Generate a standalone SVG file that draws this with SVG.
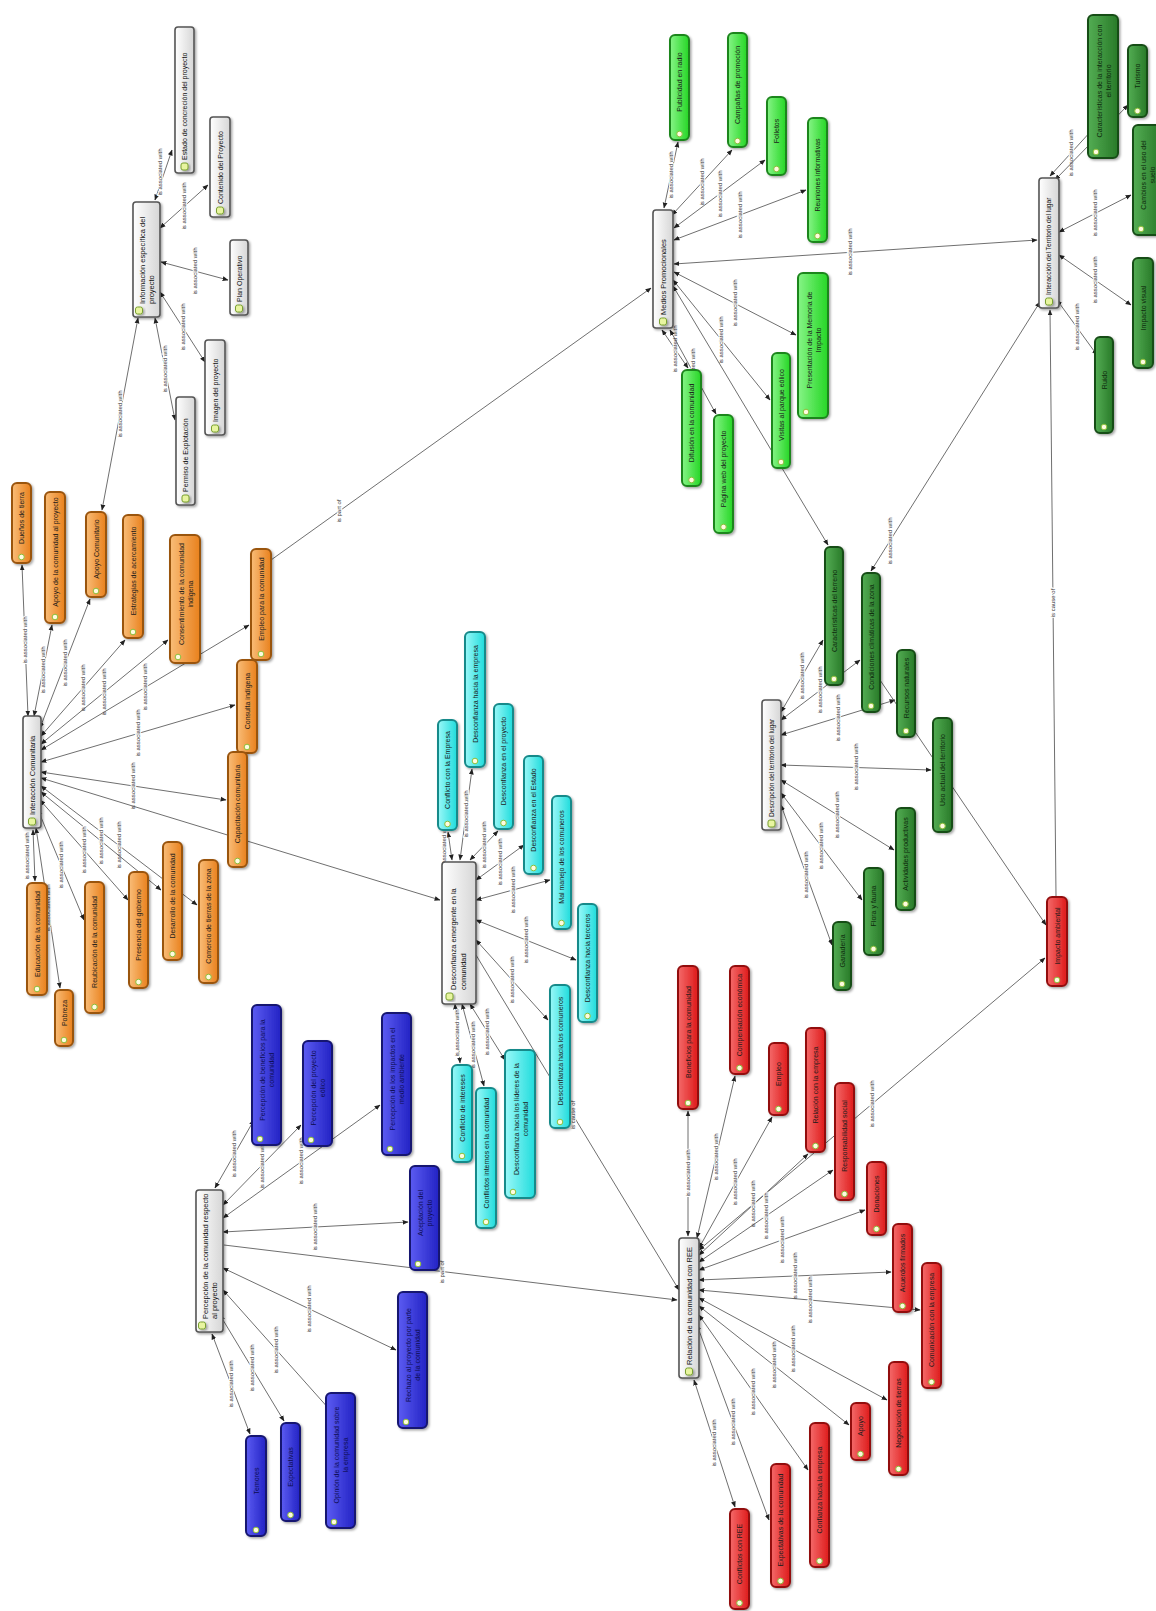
<svg xmlns="http://www.w3.org/2000/svg" width="1156" height="1611" viewBox="0 0 1156 1611">
<defs>
<linearGradient id="gOr" x1="0" y1="0" x2="1" y2="0"><stop offset="0" stop-color="#f9bd78"/><stop offset="1" stop-color="#e9811d"/></linearGradient>
<linearGradient id="gCy" x1="0" y1="0" x2="1" y2="0"><stop offset="0" stop-color="#9af8f8"/><stop offset="1" stop-color="#1fdcdc"/></linearGradient>
<linearGradient id="gBl" x1="0" y1="0" x2="1" y2="0"><stop offset="0" stop-color="#5c5cf2"/><stop offset="1" stop-color="#2222c4"/></linearGradient>
<linearGradient id="gRd" x1="0" y1="0" x2="1" y2="0"><stop offset="0" stop-color="#f46a6a"/><stop offset="1" stop-color="#de1a1a"/></linearGradient>
<linearGradient id="gGr" x1="0" y1="0" x2="1" y2="0"><stop offset="0" stop-color="#86f486"/><stop offset="1" stop-color="#25d625"/></linearGradient>
<linearGradient id="gDg" x1="0" y1="0" x2="1" y2="0"><stop offset="0" stop-color="#54ad54"/><stop offset="1" stop-color="#287a28"/></linearGradient>
<linearGradient id="gHb" x1="0" y1="0" x2="1" y2="0"><stop offset="0" stop-color="#ffffff"/><stop offset="1" stop-color="#d6d6d6"/></linearGradient>
<filter id="sh" x="-30%" y="-10%" width="170%" height="125%"><feDropShadow dx="1.5" dy="1.5" stdDeviation="1" flood-color="#000" flood-opacity="0.35"/></filter>
<marker id="ah" viewBox="0 0 10 10" refX="9" refY="5" markerWidth="6" markerHeight="6" markerUnits="userSpaceOnUse" orient="auto-start-reverse"><path d="M0,1 L10,5 L0,9 z" fill="#222"/></marker>
<style>
.n rect{stroke-width:2;filter:url(#sh)}
.n text{font-family:"Liberation Sans",Arial,sans-serif;font-size:7px;fill:#1a1a1a;text-anchor:middle}
.n circle{fill:#fffbe0;stroke:#8cbf3a;stroke-width:1}
.or rect{fill:url(#gOr);stroke:#9a5410}
.cy rect{fill:url(#gCy);stroke:#178a8a}
.bl rect{fill:url(#gBl);stroke:#141470}
.bl text{fill:#0c0c50}
.rd rect{fill:url(#gRd);stroke:#921010}
.gr rect{fill:url(#gGr);stroke:#1f861f}
.dg rect{fill:url(#gDg);stroke:#184d18}
.dg text{fill:#0d2a0d}
.hb rect{fill:url(#gHb);stroke:#555;stroke-width:1.6}
.hb text{font-size:7.5px;fill:#111;text-anchor:start}
.hb .ic{fill:#e8f5a0;stroke:#7aa030;stroke-width:1}
#connectors line{stroke:#4a4a4a;stroke-width:0.8;fill:none}
.as{marker-start:url(#ah);marker-end:url(#ah)}
.on{marker-end:url(#ah)}
.lb{font-family:"Liberation Sans",Arial,sans-serif;font-size:6px;fill:#333;text-anchor:middle;stroke:#fff;stroke-width:2;paint-order:stroke}
</style>
</defs>
<rect width="1156" height="1611" fill="#fff"/>

<g id="connectors">
<!-- Interacción Comunitaria -->
<line class="as" x1="28" y1="716" x2="22" y2="565"/><text class="lb" x="25" y="640" transform="rotate(-90 25 640)" dy="2">is associated with</text>
<line class="as" x1="34" y1="716" x2="52" y2="625"/><text class="lb" x="43" y="670" transform="rotate(-90 43 670)" dy="2">is associated with</text>
<line class="as" x1="40" y1="728" x2="90" y2="599"/><text class="lb" x="65" y="663" transform="rotate(-90 65 663)" dy="2">is associated with</text>
<line class="as" x1="41" y1="736" x2="125" y2="640"/><text class="lb" x="83" y="688" transform="rotate(-90 83 688)" dy="2">is associated with</text>
<line class="as" x1="41" y1="744" x2="168" y2="640"/><text class="lb" x="104" y="692" transform="rotate(-90 104 692)" dy="2">is associated with</text>
<line class="as" x1="41" y1="750" x2="249" y2="625"/><text class="lb" x="145" y="687" transform="rotate(-90 145 687)" dy="2">is associated with</text>
<line class="as" x1="41" y1="762" x2="235" y2="705"/><text class="lb" x="138" y="733" transform="rotate(-90 138 733)" dy="2">is associated with</text>
<line class="as" x1="41" y1="772" x2="226" y2="800"/><text class="lb" x="133" y="786" transform="rotate(-90 133 786)" dy="2">is associated with</text>
<line class="as" x1="41" y1="778" x2="440" y2="900"/><text class="lb" x="240" y="839" transform="rotate(-90 240 839)" dy="2">is associated with</text>
<line class="as" x1="41" y1="786" x2="197" y2="905"/><text class="lb" x="119" y="845" transform="rotate(-90 119 845)" dy="2">is associated with</text>
<line class="as" x1="41" y1="792" x2="161" y2="890"/><text class="lb" x="101" y="841" transform="rotate(-90 101 841)" dy="2">is associated with</text>
<line class="as" x1="40" y1="800" x2="128" y2="900"/><text class="lb" x="84" y="850" transform="rotate(-90 84 850)" dy="2">is associated with</text>
<line class="as" x1="38" y1="810" x2="84" y2="920"/><text class="lb" x="61" y="865" transform="rotate(-90 61 865)" dy="2">is associated with</text>
<line class="as" x1="36" y1="828" x2="60" y2="988"/><text class="lb" x="48" y="908" transform="rotate(-90 48 908)" dy="2">is associated with</text>
<line class="as" x1="33" y1="830" x2="35" y2="881"/><text class="lb" x="27" y="856" transform="rotate(-90 27 856)" dy="2">is associated with</text>
<!-- Información específica -->
<line class="as" x1="138" y1="318" x2="102" y2="510"/><text class="lb" x="120" y="414" transform="rotate(-90 120 414)" dy="2">is associated with</text>
<line class="as" x1="155" y1="200" x2="172" y2="150"/><text class="lb" x="160" y="172" transform="rotate(-90 160 172)" dy="2">is associated with</text>
<line class="as" x1="160" y1="228" x2="208" y2="185"/><text class="lb" x="184" y="206" transform="rotate(-90 184 206)" dy="2">is associated with</text>
<line class="as" x1="161" y1="262" x2="228" y2="280"/><text class="lb" x="195" y="271" transform="rotate(-90 195 271)" dy="2">is associated with</text>
<line class="as" x1="160" y1="292" x2="205" y2="362"/><text class="lb" x="183" y="327" transform="rotate(-90 183 327)" dy="2">is associated with</text>
<line class="as" x1="155" y1="318" x2="175" y2="420"/><text class="lb" x="165" y="369" transform="rotate(-90 165 369)" dy="2">is associated with</text>
<!-- Medios Promocionales -->
<line class="on" x1="271" y1="560" x2="651" y2="288"/><text class="lb" x="339" y="511" transform="rotate(-90 339 511)" dy="2">is part of</text>
<line class="as" x1="664" y1="208" x2="678" y2="142"/><text class="lb" x="671" y="175" transform="rotate(-90 671 175)" dy="2">is associated with</text>
<line class="as" x1="672" y1="215" x2="732" y2="150"/><text class="lb" x="702" y="182" transform="rotate(-90 702 182)" dy="2">is associated with</text>
<line class="as" x1="674" y1="228" x2="765" y2="160"/><text class="lb" x="720" y="194" transform="rotate(-90 720 194)" dy="2">is associated with</text>
<line class="as" x1="674" y1="240" x2="806" y2="190"/><text class="lb" x="740" y="215" transform="rotate(-90 740 215)" dy="2">is associated with</text>
<line class="as" x1="674" y1="264" x2="1037" y2="240"/><text class="lb" x="850" y="252" transform="rotate(-90 850 252)" dy="2">is associated with</text>
<line class="as" x1="674" y1="272" x2="796" y2="335"/><text class="lb" x="735" y="303" transform="rotate(-90 735 303)" dy="2">is associated with</text>
<line class="as" x1="673" y1="280" x2="770" y2="400"/><text class="lb" x="721" y="340" transform="rotate(-90 721 340)" dy="2">is associated with</text>
<line class="as" x1="673" y1="286" x2="828" y2="545"/>
<line class="as" x1="662" y1="330" x2="688" y2="368"/><text class="lb" x="675" y="349" transform="rotate(-90 675 349)" dy="2">is associated with</text>
<line class="as" x1="670" y1="330" x2="716" y2="414"/><text class="lb" x="693" y="372" transform="rotate(-90 693 372)" dy="2">is associated with</text>
<!-- Descripción del territorio -->
<line class="as" x1="781" y1="712" x2="823" y2="640"/><text class="lb" x="802" y="676" transform="rotate(-90 802 676)" dy="2">is associated with</text>
<line class="as" x1="781" y1="720" x2="860" y2="660"/><text class="lb" x="820" y="690" transform="rotate(-90 820 690)" dy="2">is associated with</text>
<line class="as" x1="781" y1="735" x2="895" y2="700"/><text class="lb" x="838" y="718" transform="rotate(-90 838 718)" dy="2">is associated with</text>
<line class="as" x1="781" y1="765" x2="931" y2="770"/><text class="lb" x="856" y="767" transform="rotate(-90 856 767)" dy="2">is associated with</text>
<line class="as" x1="781" y1="780" x2="894" y2="850"/><text class="lb" x="837" y="815" transform="rotate(-90 837 815)" dy="2">is associated with</text>
<line class="as" x1="781" y1="793" x2="862" y2="900"/><text class="lb" x="821" y="846" transform="rotate(-90 821 846)" dy="2">is associated with</text>
<line class="as" x1="781" y1="805" x2="832" y2="945"/><text class="lb" x="806" y="875" transform="rotate(-90 806 875)" dy="2">is associated with</text>
<line class="as" x1="871" y1="571" x2="1040" y2="302"/><text class="lb" x="890" y="541" transform="rotate(-90 890 541)" dy="2">is associated with</text>
<line class="on" x1="880" y1="680" x2="1046" y2="925"/>
<line class="on" x1="1056" y1="896" x2="1050" y2="310"/><text class="lb" x="1053" y="603" transform="rotate(-90 1053 603)" dy="2">is cause of</text>
<line class="as" x1="699" y1="1250" x2="1045" y2="958"/><text class="lb" x="872" y="1104" transform="rotate(-90 872 1104)" dy="2">is associated with</text>
<!-- Desconfianza emergente -->
<line class="as" x1="452" y1="860" x2="448" y2="832"/><text class="lb" x="444" y="846" transform="rotate(-90 444 846)" dy="2">is associated with</text>
<line class="as" x1="460" y1="860" x2="472" y2="769"/><text class="lb" x="466" y="814" transform="rotate(-90 466 814)" dy="2">is associated with</text>
<line class="as" x1="470" y1="860" x2="498" y2="831"/><text class="lb" x="484" y="845" transform="rotate(-90 484 845)" dy="2">is associated with</text>
<line class="as" x1="476" y1="880" x2="524" y2="845"/><text class="lb" x="500" y="862" transform="rotate(-90 500 862)" dy="2">is associated with</text>
<line class="as" x1="476" y1="900" x2="550" y2="880"/><text class="lb" x="513" y="890" transform="rotate(-90 513 890)" dy="2">is associated with</text>
<line class="as" x1="476" y1="920" x2="576" y2="960"/><text class="lb" x="526" y="940" transform="rotate(-90 526 940)" dy="2">is associated with</text>
<line class="as" x1="476" y1="940" x2="548" y2="1020"/><text class="lb" x="512" y="980" transform="rotate(-90 512 980)" dy="2">is associated with</text>
<line class="on" x1="476" y1="955" x2="679" y2="1290"/><text class="lb" x="573" y="1115" transform="rotate(-90 573 1115)" dy="2">is cause of</text>
<line class="as" x1="470" y1="1004" x2="505" y2="1060"/><text class="lb" x="487" y="1032" transform="rotate(-90 487 1032)" dy="2">is associated with</text>
<line class="as" x1="462" y1="1004" x2="484" y2="1086"/><text class="lb" x="473" y="1045" transform="rotate(-90 473 1045)" dy="2">is associated with</text>
<line class="as" x1="455" y1="1004" x2="460" y2="1063"/><text class="lb" x="457" y="1033" transform="rotate(-90 457 1033)" dy="2">is associated with</text>
<!-- Relación de la comunidad -->
<line class="as" x1="688" y1="1236" x2="688" y2="1111"/><text class="lb" x="688" y="1173" transform="rotate(-90 688 1173)" dy="2">is associated with</text>
<line class="as" x1="697" y1="1238" x2="735" y2="1076"/><text class="lb" x="716" y="1157" transform="rotate(-90 716 1157)" dy="2">is associated with</text>
<line class="as" x1="699" y1="1248" x2="772" y2="1117"/><text class="lb" x="735" y="1182" transform="rotate(-90 735 1182)" dy="2">is associated with</text>
<line class="as" x1="699" y1="1255" x2="808" y2="1154"/><text class="lb" x="753" y="1204" transform="rotate(-90 753 1204)" dy="2">is associated with</text>
<line class="as" x1="699" y1="1262" x2="833" y2="1170"/><text class="lb" x="766" y="1216" transform="rotate(-90 766 1216)" dy="2">is associated with</text>
<line class="as" x1="699" y1="1270" x2="865" y2="1210"/><text class="lb" x="782" y="1240" transform="rotate(-90 782 1240)" dy="2">is associated with</text>
<line class="as" x1="699" y1="1280" x2="891" y2="1272"/><text class="lb" x="795" y="1276" transform="rotate(-90 795 1276)" dy="2">is associated with</text>
<line class="as" x1="699" y1="1290" x2="920" y2="1310"/><text class="lb" x="810" y="1300" transform="rotate(-90 810 1300)" dy="2">is associated with</text>
<line class="as" x1="699" y1="1298" x2="887" y2="1400"/><text class="lb" x="793" y="1349" transform="rotate(-90 793 1349)" dy="2">is associated with</text>
<line class="as" x1="699" y1="1306" x2="849" y2="1425"/><text class="lb" x="774" y="1365" transform="rotate(-90 774 1365)" dy="2">is associated with</text>
<line class="as" x1="699" y1="1315" x2="808" y2="1470"/><text class="lb" x="753" y="1392" transform="rotate(-90 753 1392)" dy="2">is associated with</text>
<line class="as" x1="697" y1="1325" x2="769" y2="1520"/><text class="lb" x="733" y="1422" transform="rotate(-90 733 1422)" dy="2">is associated with</text>
<line class="as" x1="694" y1="1380" x2="735" y2="1507"/><text class="lb" x="714" y="1443" transform="rotate(-90 714 1443)" dy="2">is associated with</text>
<line class="on" x1="224" y1="1245" x2="677" y2="1300"/><text class="lb" x="442" y="1272" transform="rotate(-90 442 1272)" dy="2">is part of</text>
<!-- Percepción -->
<line class="as" x1="215" y1="1188" x2="254" y2="1120"/><text class="lb" x="234" y="1154" transform="rotate(-90 234 1154)" dy="2">is associated with</text>
<line class="as" x1="223" y1="1205" x2="301" y2="1125"/><text class="lb" x="262" y="1165" transform="rotate(-90 262 1165)" dy="2">is associated with</text>
<line class="as" x1="223" y1="1218" x2="380" y2="1105"/><text class="lb" x="301" y="1161" transform="rotate(-90 301 1161)" dy="2">is associated with</text>
<line class="as" x1="223" y1="1232" x2="408" y2="1222"/><text class="lb" x="315" y="1227" transform="rotate(-90 315 1227)" dy="2">is associated with</text>
<line class="as" x1="223" y1="1268" x2="396" y2="1350"/><text class="lb" x="309" y="1309" transform="rotate(-90 309 1309)" dy="2">is associated with</text>
<line class="as" x1="223" y1="1290" x2="330" y2="1410"/><text class="lb" x="276" y="1350" transform="rotate(-90 276 1350)" dy="2">is associated with</text>
<line class="as" x1="220" y1="1315" x2="284" y2="1421"/><text class="lb" x="252" y="1368" transform="rotate(-90 252 1368)" dy="2">is associated with</text>
<line class="as" x1="212" y1="1334" x2="250" y2="1434"/><text class="lb" x="231" y="1384" transform="rotate(-90 231 1384)" dy="2">is associated with</text>
<!-- Interacción del Territorio -->
<line class="as" x1="1050" y1="176" x2="1092" y2="130"/><text class="lb" x="1071" y="153" transform="rotate(-90 1071 153)" dy="2">is associated with</text>
<line class="as" x1="1055" y1="180" x2="1128" y2="105"/>
<line class="as" x1="1059" y1="232" x2="1131" y2="195"/><text class="lb" x="1095" y="213" transform="rotate(-90 1095 213)" dy="2">is associated with</text>
<line class="as" x1="1059" y1="255" x2="1131" y2="305"/><text class="lb" x="1095" y="280" transform="rotate(-90 1095 280)" dy="2">is associated with</text>
<line class="as" x1="1057" y1="300" x2="1097" y2="355"/><text class="lb" x="1077" y="327" transform="rotate(-90 1077 327)" dy="2">is associated with</text>
</g>

<!-- Hubs -->
<g id="hub-interaccion-comunitaria" class="n hb"><rect x="23" y="716" width="18" height="112" rx="3"/><text x="32" y="815" transform="rotate(-90 32 815)" dy="2.6">Interacción Comunitaria</text><rect class="ic" x="28.5" y="818" width="7" height="7" rx="2"/></g>
<g id="hub-informacion" class="n hb"><rect x="133" y="202" width="27" height="115" rx="3"/><text x="142" y="304" transform="rotate(-90 142 304)" dy="2.6"><tspan>Información específica del</tspan><tspan x="142" dy="9">proyecto</tspan></text><rect class="ic" x="135.5" y="307" width="7" height="7" rx="2"/></g>
<g id="hub-desconfianza" class="n hb"><rect x="442" y="862" width="34" height="142" rx="3"/><text x="453" y="990" transform="rotate(-90 453 990)" dy="2.6"><tspan>Desconfianza emergente en la</tspan><tspan x="453" dy="10">comunidad</tspan></text><rect class="ic" x="446" y="993" width="7" height="7" rx="2"/></g>
<g id="hub-percepcion" class="n hb"><rect x="196" y="1190" width="27" height="142" rx="3"/><text x="205" y="1319" transform="rotate(-90 205 1319)" dy="2.6"><tspan>Percepción de la comunidad respecto</tspan><tspan x="205" dy="9">al proyecto</tspan></text><rect class="ic" x="198.5" y="1322" width="7" height="7" rx="2"/></g>
<g id="hub-relacion" class="n hb"><rect x="679" y="1238" width="20" height="140" rx="3"/><text x="689" y="1365" transform="rotate(-90 689 1365)" dy="2.6">Relación de la comunidad con REE</text><rect class="ic" x="685.5" y="1368" width="7" height="7" rx="2"/></g>
<g id="hub-medios" class="n hb"><rect x="653" y="210" width="20" height="118" rx="3"/><text x="663" y="315" transform="rotate(-90 663 315)" dy="2.6">Medios Promocionales</text><rect class="ic" x="659.5" y="318" width="7" height="7" rx="2"/></g>
<g id="hub-descripcion" class="n hb"><rect x="762" y="700" width="19" height="130" rx="3"/><text x="771.5" y="817" transform="rotate(-90 771.5 817)" dy="2.4" style="font-size:6.6px">Descripción del territorio del lugar</text><rect class="ic" x="768" y="820" width="7" height="7" rx="2"/></g>
<g id="hub-territorio" class="n hb"><rect x="1039" y="178" width="20" height="130" rx="3"/><text x="1049" y="295" transform="rotate(-90 1049 295)" dy="2.4" style="font-size:6.6px">Interacción del Territorio del lugar</text><rect class="ic" x="1045.5" y="298" width="7" height="7" rx="2"/></g>

<!-- Orange -->
<g id="o1" class="n or"><rect x="12" y="483" width="19" height="80" rx="5"/><text x="21.5" y="518" transform="rotate(-90 21.5 518)" dy="2.5">Dueños de tierra</text><circle cx="21.5" cy="557" r="2.8"/></g>
<g id="o2" class="n or"><rect x="45" y="492" width="20" height="131" rx="5"/><text x="55" y="552" transform="rotate(-90 55 552)" dy="2.5">Apoyo de la comunidad al proyecto</text><circle cx="55" cy="617" r="2.8"/></g>
<g id="o3" class="n or"><rect x="86" y="512" width="20" height="85" rx="5"/><text x="96" y="549" transform="rotate(-90 96 549)" dy="2.5">Apoyo Comunitario</text><circle cx="96" cy="591" r="2.8"/></g>
<g id="o4" class="n or"><rect x="123" y="515" width="20" height="123" rx="5"/><text x="133" y="571" transform="rotate(-90 133 571)" dy="2.5">Estrategias de acercamiento</text><circle cx="133" cy="632" r="2.8"/></g>
<g id="o5" class="n or"><rect x="170" y="535" width="30" height="128" rx="5"/><text x="185" y="594" transform="rotate(-90 185 594)" dy="-1.5"><tspan>Consentimiento de la comunidad</tspan><tspan x="185" dy="9">indígena</tspan></text><circle cx="178" cy="657" r="2.8"/></g>
<g id="o6" class="n or"><rect x="251" y="549" width="20" height="111" rx="5"/><text x="261" y="599" transform="rotate(-90 261 599)" dy="2.5">Empleo para la comunidad</text><circle cx="261" cy="654" r="2.8"/></g>
<g id="o7" class="n or"><rect x="237" y="660" width="20" height="93" rx="5"/><text x="247" y="701" transform="rotate(-90 247 701)" dy="2.5">Consulta indígena</text><circle cx="247" cy="747" r="2.8"/></g>
<g id="o8" class="n or"><rect x="228" y="752" width="19" height="115" rx="5"/><text x="237.5" y="804" transform="rotate(-90 237.5 804)" dy="2.5">Capacitación comunitaria</text><circle cx="237.5" cy="861" r="2.8"/></g>
<g id="o9" class="n or"><rect x="27" y="883" width="20" height="112" rx="5"/><text x="37" y="934" transform="rotate(-90 37 934)" dy="2.5">Educación de la comunidad</text><circle cx="37" cy="989" r="2.8"/></g>
<g id="o10" class="n or"><rect x="55" y="990" width="18" height="56" rx="5"/><text x="64" y="1013" transform="rotate(-90 64 1013)" dy="2.5">Pobreza</text><circle cx="64" cy="1040" r="2.8"/></g>
<g id="o11" class="n or"><rect x="85" y="882" width="19" height="131" rx="5"/><text x="94.5" y="942" transform="rotate(-90 94.5 942)" dy="2.5">Reubicación de la comunidad</text><circle cx="94.5" cy="1007" r="2.8"/></g>
<g id="o12" class="n or"><rect x="129" y="872" width="19" height="116" rx="5"/><text x="138.5" y="925" transform="rotate(-90 138.5 925)" dy="2.5">Presencia del gobierno</text><circle cx="138.5" cy="982" r="2.8"/></g>
<g id="o13" class="n or"><rect x="163" y="842" width="19" height="118" rx="5"/><text x="172.5" y="896" transform="rotate(-90 172.5 896)" dy="2.5">Desarrollo de la comunidad</text><circle cx="172.5" cy="954" r="2.8"/></g>
<g id="o14" class="n or"><rect x="199" y="860" width="19" height="123" rx="5"/><text x="208.5" y="916" transform="rotate(-90 208.5 916)" dy="2.5">Comercio de tierras de la zona</text><circle cx="208.5" cy="977" r="2.8"/></g>

<!-- Gray (Información específica) -->
<g id="i1" class="n hb"><rect x="175" y="27" width="19" height="146" rx="3"/><text x="184.5" y="160" transform="rotate(-90 184.5 160)" dy="2.5" style="font-size:7px">Estado de concreción del proyecto</text><rect class="ic" x="181" y="163" width="7" height="7" rx="2"/></g>
<g id="i2" class="n hb"><rect x="210" y="117" width="20" height="100" rx="3"/><text x="220" y="204" transform="rotate(-90 220 204)" dy="2.5" style="font-size:7px">Contenido del Proyecto</text><rect class="ic" x="216.5" y="207" width="7" height="7" rx="2"/></g>
<g id="i3" class="n hb"><rect x="230" y="240" width="18" height="75" rx="3"/><text x="239" y="302" transform="rotate(-90 239 302)" dy="2.5" style="font-size:7px">Plan Operativo</text><rect class="ic" x="235.5" y="305" width="7" height="7" rx="2"/></g>
<g id="i4" class="n hb"><rect x="205" y="340" width="20" height="95" rx="3"/><text x="215" y="422" transform="rotate(-90 215 422)" dy="2.5" style="font-size:7px">Imagen del proyecto</text><rect class="ic" x="211.5" y="425" width="7" height="7" rx="2"/></g>
<g id="i5" class="n hb"><rect x="176" y="397" width="19" height="108" rx="3"/><text x="185.5" y="492" transform="rotate(-90 185.5 492)" dy="2.5" style="font-size:7px">Permiso de Explotación</text><rect class="ic" x="182" y="495" width="7" height="7" rx="2"/></g>

<!-- Cyan -->
<g id="c1" class="n cy"><rect x="438" y="720" width="19" height="110" rx="5"/><text x="447.5" y="770" transform="rotate(-90 447.5 770)" dy="2.5">Conflicto con la Empresa</text><circle cx="447.5" cy="824" r="2.8"/></g>
<g id="c2" class="n cy"><rect x="465" y="632" width="20" height="135" rx="5"/><text x="475" y="694" transform="rotate(-90 475 694)" dy="2.5">Desconfianza hacia la empresa</text><circle cx="475" cy="761" r="2.8"/></g>
<g id="c3" class="n cy"><rect x="494" y="704" width="19" height="125" rx="5"/><text x="503.5" y="761" transform="rotate(-90 503.5 761)" dy="2.5">Desconfianza en el proyecto</text><circle cx="503.5" cy="823" r="2.8"/></g>
<g id="c4" class="n cy"><rect x="524" y="756" width="19" height="118" rx="5"/><text x="533.5" y="810" transform="rotate(-90 533.5 810)" dy="2.5">Desconfianza en el Estado</text><circle cx="533.5" cy="868" r="2.8"/></g>
<g id="c5" class="n cy"><rect x="552" y="796" width="19" height="133" rx="5"/><text x="561.5" y="857" transform="rotate(-90 561.5 857)" dy="2.5">Mal manejo de los comuneros</text><circle cx="561.5" cy="923" r="2.8"/></g>
<g id="c6" class="n cy"><rect x="578" y="904" width="19" height="118" rx="5"/><text x="587.5" y="958" transform="rotate(-90 587.5 958)" dy="2.5">Desconfianza hacia terceros</text><circle cx="587.5" cy="1016" r="2.8"/></g>
<g id="c7" class="n cy"><rect x="550" y="985" width="20" height="143" rx="5"/><text x="560" y="1051" transform="rotate(-90 560 1051)" dy="2.5">Desconfianza hacia los comuneros</text><circle cx="560" cy="1122" r="2.8"/></g>
<g id="c8" class="n cy"><rect x="452" y="1065" width="20" height="97" rx="5"/><text x="462" y="1108" transform="rotate(-90 462 1108)" dy="2.5">Conflicto de intereses</text><circle cx="462" cy="1156" r="2.8"/></g>
<g id="c9" class="n cy"><rect x="476" y="1088" width="20" height="140" rx="5"/><text x="486" y="1153" transform="rotate(-90 486 1153)" dy="2.5">Conflictos internos en la comunidad</text><circle cx="486" cy="1222" r="2.8"/></g>
<g id="c10" class="n cy"><rect x="505" y="1050" width="30" height="148" rx="5"/><text x="520" y="1119" transform="rotate(-90 520 1119)" dy="-1.5"><tspan>Desconfianza hacia los líderes de la</tspan><tspan x="520" dy="9">comunidad</tspan></text><circle cx="513" cy="1192" r="2.8"/></g>

<!-- Blue -->
<g id="b1" class="n bl"><rect x="252" y="1005" width="29" height="140" rx="5"/><text x="266.5" y="1070" transform="rotate(-90 266.5 1070)" dy="-1.5"><tspan>Percepción de beneficios para la</tspan><tspan x="266.5" dy="9">comunidad</tspan></text><circle cx="260" cy="1139" r="2.8"/></g>
<g id="b2" class="n bl"><rect x="303" y="1041" width="29" height="105" rx="5"/><text x="317.5" y="1088" transform="rotate(-90 317.5 1088)" dy="-1.5"><tspan>Percepción del proyecto</tspan><tspan x="317.5" dy="9">eólico</tspan></text><circle cx="311" cy="1140" r="2.8"/></g>
<g id="b3" class="n bl"><rect x="382" y="1013" width="29" height="142" rx="5"/><text x="396.5" y="1079" transform="rotate(-90 396.5 1079)" dy="-1.5"><tspan>Percepción de los impactos en el</tspan><tspan x="396.5" dy="9">medio ambiente</tspan></text><circle cx="390" cy="1149" r="2.8"/></g>
<g id="b4" class="n bl"><rect x="410" y="1166" width="29" height="104" rx="5"/><text x="424.5" y="1213" transform="rotate(-90 424.5 1213)" dy="-1.5"><tspan>Aceptación del</tspan><tspan x="424.5" dy="9">proyecto</tspan></text><circle cx="418" cy="1264" r="2.8"/></g>
<g id="b5" class="n bl"><rect x="398" y="1292" width="29" height="136" rx="5"/><text x="412.5" y="1355" transform="rotate(-90 412.5 1355)" dy="-1.5"><tspan>Rechazo al proyecto por parte</tspan><tspan x="412.5" dy="9">de la comunidad</tspan></text><circle cx="406" cy="1422" r="2.8"/></g>
<g id="b6" class="n bl"><rect x="326" y="1393" width="29" height="135" rx="5"/><text x="340.5" y="1455" transform="rotate(-90 340.5 1455)" dy="-1.5"><tspan>Opinión de la comunidad sobre</tspan><tspan x="340.5" dy="9">la empresa</tspan></text><circle cx="334" cy="1522" r="2.8"/></g>
<g id="b7" class="n bl"><rect x="281" y="1423" width="19" height="98" rx="5"/><text x="290.5" y="1467" transform="rotate(-90 290.5 1467)" dy="2.5">Expectativas</text><circle cx="290.5" cy="1515" r="2.8"/></g>
<g id="b8" class="n bl"><rect x="246" y="1436" width="20" height="100" rx="5"/><text x="256" y="1481" transform="rotate(-90 256 1481)" dy="2.5">Temores</text><circle cx="256" cy="1530" r="2.8"/></g>

<!-- Red -->
<g id="r1" class="n rd"><rect x="678" y="966" width="20" height="143" rx="5"/><text x="688" y="1032" transform="rotate(-90 688 1032)" dy="2.5">Beneficios para la comunidad</text><circle cx="688" cy="1103" r="2.8"/></g>
<g id="r2" class="n rd"><rect x="730" y="966" width="19" height="108" rx="5"/><text x="739.5" y="1015" transform="rotate(-90 739.5 1015)" dy="2.5">Compensación económica</text><circle cx="739.5" cy="1068" r="2.8"/></g>
<g id="r3" class="n rd"><rect x="769" y="1043" width="19" height="72" rx="5"/><text x="778.5" y="1074" transform="rotate(-90 778.5 1074)" dy="2.5">Empleo</text><circle cx="778.5" cy="1109" r="2.8"/></g>
<g id="r4" class="n rd"><rect x="806" y="1028" width="19" height="124" rx="5"/><text x="815.5" y="1085" transform="rotate(-90 815.5 1085)" dy="2.5">Relación con la empresa</text><circle cx="815.5" cy="1146" r="2.8"/></g>
<g id="r5" class="n rd"><rect x="835" y="1083" width="19" height="117" rx="5"/><text x="844.5" y="1136" transform="rotate(-90 844.5 1136)" dy="2.5">Responsabilidad social</text><circle cx="844.5" cy="1194" r="2.8"/></g>
<g id="r6" class="n rd"><rect x="867" y="1162" width="19" height="73" rx="5"/><text x="876.5" y="1194" transform="rotate(-90 876.5 1194)" dy="2.5">Donaciones</text><circle cx="876.5" cy="1229" r="2.8"/></g>
<g id="r7" class="n rd"><rect x="893" y="1224" width="19" height="88" rx="5"/><text x="902.5" y="1263" transform="rotate(-90 902.5 1263)" dy="2.5">Acuerdos firmados</text><circle cx="902.5" cy="1306" r="2.8"/></g>
<g id="r8" class="n rd"><rect x="922" y="1263" width="19" height="125" rx="5"/><text x="931.5" y="1320" transform="rotate(-90 931.5 1320)" dy="2.5">Comunicación con la empresa</text><circle cx="931.5" cy="1382" r="2.8"/></g>
<g id="r9" class="n rd"><rect x="889" y="1362" width="19" height="113" rx="5"/><text x="898.5" y="1413" transform="rotate(-90 898.5 1413)" dy="2.5">Negociación de tierras</text><circle cx="898.5" cy="1469" r="2.8"/></g>
<g id="r10" class="n rd"><rect x="851" y="1403" width="19" height="57" rx="5"/><text x="860.5" y="1426" transform="rotate(-90 860.5 1426)" dy="2.5">Apoyo</text><circle cx="860.5" cy="1454" r="2.8"/></g>
<g id="r11" class="n rd"><rect x="810" y="1423" width="19" height="144" rx="5"/><text x="819.5" y="1490" transform="rotate(-90 819.5 1490)" dy="2.5">Confianza hacia la empresa</text><circle cx="819.5" cy="1561" r="2.8"/></g>
<g id="r12" class="n rd"><rect x="771" y="1464" width="19" height="123" rx="5"/><text x="780.5" y="1520" transform="rotate(-90 780.5 1520)" dy="2.5">Expectativas de la comunidad</text><circle cx="780.5" cy="1581" r="2.8"/></g>
<g id="r13" class="n rd"><rect x="730" y="1509" width="19" height="100" rx="5"/><text x="739.5" y="1554" transform="rotate(-90 739.5 1554)" dy="2.5">Conflictos con REE</text><circle cx="739.5" cy="1603" r="2.8"/></g>
<g id="r14" class="n rd"><rect x="1047" y="897" width="20" height="89" rx="5"/><text x="1057" y="936" transform="rotate(-90 1057 936)" dy="2.5">Impacto ambiental</text><circle cx="1057" cy="980" r="2.8"/></g>

<!-- Bright green -->
<g id="g1" class="n gr"><rect x="670" y="35" width="19" height="105" rx="5"/><text x="679.5" y="82" transform="rotate(-90 679.5 82)" dy="2.5">Publicidad en radio</text><circle cx="679.5" cy="134" r="2.8"/></g>
<g id="g2" class="n gr"><rect x="728" y="33" width="19" height="114" rx="5"/><text x="737.5" y="85" transform="rotate(-90 737.5 85)" dy="2.5">Campañas de promoción</text><circle cx="737.5" cy="141" r="2.8"/></g>
<g id="g3" class="n gr"><rect x="767" y="97" width="19" height="78" rx="5"/><text x="776.5" y="131" transform="rotate(-90 776.5 131)" dy="2.5">Folletos</text><circle cx="776.5" cy="169" r="2.8"/></g>
<g id="g4" class="n gr"><rect x="808" y="118" width="19" height="124" rx="5"/><text x="817.5" y="175" transform="rotate(-90 817.5 175)" dy="2.5">Reuniones informativas</text><circle cx="817.5" cy="236" r="2.8"/></g>
<g id="g5" class="n gr"><rect x="798" y="273" width="30" height="145" rx="5"/><text x="813" y="340" transform="rotate(-90 813 340)" dy="-1.5"><tspan>Presentación de la Memoria de</tspan><tspan x="813" dy="9">Impacto</tspan></text><circle cx="806" cy="412" r="2.8"/></g>
<g id="g6" class="n gr"><rect x="772" y="353" width="18" height="115" rx="5"/><text x="781" y="405" transform="rotate(-90 781 405)" dy="2.5">Visitas al parque eólico</text><circle cx="781" cy="462" r="2.8"/></g>
<g id="g7" class="n gr"><rect x="682" y="370" width="19" height="116" rx="5"/><text x="691.5" y="423" transform="rotate(-90 691.5 423)" dy="2.5">Difusión en la comunidad</text><circle cx="691.5" cy="480" r="2.8"/></g>
<g id="g8" class="n gr"><rect x="714" y="415" width="19" height="118" rx="5"/><text x="723.5" y="469" transform="rotate(-90 723.5 469)" dy="2.5">Página web del proyecto</text><circle cx="723.5" cy="527" r="2.8"/></g>

<!-- Dark green -->
<g id="d1" class="n dg"><rect x="825" y="547" width="18" height="138" rx="5"/><text x="834" y="611" transform="rotate(-90 834 611)" dy="2.5">Características del terreno</text><circle cx="834" cy="679" r="2.8"/></g>
<g id="d2" class="n dg"><rect x="862" y="573" width="18" height="139" rx="5"/><text x="871" y="637" transform="rotate(-90 871 637)" dy="2.5">Condiciones climáticas de la zona</text><circle cx="871" cy="706" r="2.8"/></g>
<g id="d3" class="n dg"><rect x="897" y="650" width="18" height="87" rx="5"/><text x="906" y="688" transform="rotate(-90 906 688)" dy="2.5">Recursos naturales</text><circle cx="906" cy="731" r="2.8"/></g>
<g id="d4" class="n dg"><rect x="933" y="718" width="19" height="114" rx="5"/><text x="942.5" y="770" transform="rotate(-90 942.5 770)" dy="2.5">Uso actual del territorio</text><circle cx="942.5" cy="826" r="2.8"/></g>
<g id="d5" class="n dg"><rect x="896" y="808" width="19" height="102" rx="5"/><text x="905.5" y="854" transform="rotate(-90 905.5 854)" dy="2.5">Actividades productivas</text><circle cx="905.5" cy="904" r="2.8"/></g>
<g id="d6" class="n dg"><rect x="864" y="868" width="19" height="87" rx="5"/><text x="873.5" y="906" transform="rotate(-90 873.5 906)" dy="2.5">Flora y fauna</text><circle cx="873.5" cy="949" r="2.8"/></g>
<g id="d7" class="n dg"><rect x="833" y="922" width="18" height="68" rx="5"/><text x="842" y="951" transform="rotate(-90 842 951)" dy="2.5">Ganadería</text><circle cx="842" cy="984" r="2.8"/></g>
<g id="d8" class="n dg"><rect x="1088" y="15" width="30" height="143" rx="5"/><text x="1103" y="81" transform="rotate(-90 1103 81)" dy="-1.5"><tspan>Características de la interacción con</tspan><tspan x="1103" dy="9">el territorio</tspan></text><circle cx="1096" cy="152" r="2.8"/></g>
<g id="d9" class="n dg"><rect x="1128" y="45" width="19" height="72" rx="5"/><text x="1137.5" y="76" transform="rotate(-90 1137.5 76)" dy="2.5">Turismo</text><circle cx="1137.5" cy="111" r="2.8"/></g>
<g id="d10" class="n dg"><rect x="1133" y="125" width="28" height="110" rx="5"/><text x="1147" y="175" transform="rotate(-90 1147 175)" dy="-1.5"><tspan>Cambios en el uso del</tspan><tspan x="1147" dy="9">suelo</tspan></text><circle cx="1141" cy="229" r="2.8"/></g>
<g id="d11" class="n dg"><rect x="1133" y="258" width="20" height="110" rx="5"/><text x="1143" y="308" transform="rotate(-90 1143 308)" dy="2.5">Impacto visual</text><circle cx="1143" cy="362" r="2.8"/></g>
<g id="d12" class="n dg"><rect x="1095" y="337" width="18" height="96" rx="5"/><text x="1104" y="380" transform="rotate(-90 1104 380)" dy="2.5">Ruido</text><circle cx="1104" cy="427" r="2.8"/></g>
</svg>
